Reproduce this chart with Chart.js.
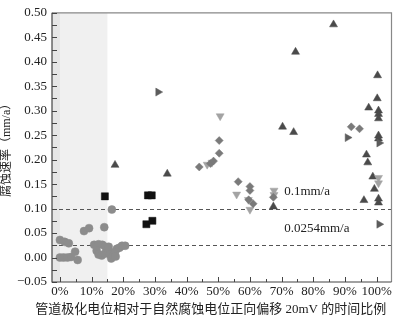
<!DOCTYPE html>
<html lang="zh">
<head>
  <meta charset="UTF-8" />
  <title>腐蚀速率与正向偏移时间比例</title>
  <script src="https://cdn.jsdelivr.net/npm/chart.js"></script>
  <style>
    html, body { margin: 0; padding: 0; background: #fff; }
    #wrap { width: 397px; height: 322px; }
  </style>
</head>
<body>
<div id="wrap"><canvas id="rateChart" width="397" height="322"></canvas></div>
<script>
  // x: time share (%) with polarized potential shifted +20mV, y: corrosion rate (mm/a)
  const circlePts = [
    [0, 0.036], [1.5, 0.032], [2.8, 0.029], [0, 0.0], [1.2, 0.0], [2.4, 0.0],
    [3.5, 0.001], [4.8, 0.012], [5.6, -0.005], [7.6, 0.054], [9.2, 0.06],
    [14, 0.062], [16.4, 0.098],
    [10.8, 0.026], [12.2, 0.027], [13.4, 0.026], [14.4, 0.022], [11.6, 0.014],
    [12.2, 0.006], [13.2, 0.004], [14.2, 0.008], [15.2, 0.014], [15.8, 0.006],
    [16.2, -0.002], [16.8, 0.004], [17.4, 0.012], [18, 0.018], [18.8, 0.02],
    [19.6, 0.024], [20.6, 0.024], [17.6, 0.002], [15.4, 0.022]
  ];
  const squarePts = [[14.2, 0.125], [27.8, 0.127], [29, 0.127], [27.3, 0.068], [29.2, 0.075]];
  const triUpPts = [
    [17.4, 0.189], [33.9, 0.171], [70.3, 0.267], [73.8, 0.256], [74.4, 0.42],
    [86.4, 0.476], [100.3, 0.372], [100.2, 0.325], [97.5, 0.306], [100.6, 0.30],
    [100.6, 0.293], [100.6, 0.284], [100.6, 0.249], [100.6, 0.243], [96.8, 0.21],
    [97.2, 0.194], [98.8, 0.165], [99.3, 0.14], [96, 0.117], [100.6, 0.12],
    [100.6, 0.112], [67.4, 0.104]
  ];
  const diamondPts = [
    [44, 0.185], [50.3, 0.239], [50.3, 0.213], [56.3, 0.155], [60, 0.145],
    [60, 0.137], [61, 0.11], [59.6, 0.118], [67.4, 0.123], [92, 0.267],
    [94.6, 0.263], [47.5, 0.192], [48.5, 0.197]
  ];
  const triDownPts = [
    [50.6, 0.289], [46.5, 0.19], [48, 0.194], [55.8, 0.129], [60, 0.098],
    [59.5, 0.118], [67.6, 0.137], [67.6, 0.128], [100.6, 0.163], [100.6, 0.152]
  ];
  const triRightPts = [[31, 0.338], [90.8, 0.245], [100.8, 0.234], [100.8, 0.068]];

  const xTickValues = [0, 10, 20, 30, 40, 50, 60, 70, 80, 90, 100];
  const refLines = [0.1, 0.0254];
  const refLabels = ['0.1mm/a', '0.0254mm/a'];
  const shadeTo = 15;

  const serif = '"Liberation Serif", "Noto Sans CJK SC", serif';
  const toXY = arr => arr.map(p => ({ x: p[0], y: p[1] }));

  function series(data, style, color, radius, rotation) {
    return {
      data: toXY(data),
      pointStyle: style,
      rotation: rotation || 0,
      pointRadius: radius,
      pointBackgroundColor: color,
      pointBorderColor: color,
      pointBorderWidth: 0.5,
      showLine: false
    };
  }

  const decor = {
    id: 'decor',
    beforeDraw(chart) {
      const { ctx, chartArea: a, scales: { x } } = chart;
      ctx.save();
      // shaded band for the first 15%
      ctx.fillStyle = '#f0f0f0';
      ctx.fillRect(a.left, a.top, x.getPixelForValue(shadeTo) - a.left, a.bottom - a.top);
      ctx.fillStyle = '#e6e6e6';
      ctx.fillRect(a.left, a.top, x.getPixelForValue(0) - a.left, a.bottom - a.top);
      ctx.restore();
    },
    beforeDatasetsDraw(chart) {
      const { ctx, chartArea: a, scales: { y } } = chart;
      ctx.save();
      ctx.strokeStyle = '#555';
      ctx.lineWidth = 1.2;
      ctx.setLineDash([4, 3]);
      refLines.forEach(v => {
        const py = Math.round(y.getPixelForValue(v)) + 0.5;
        ctx.beginPath();
        ctx.moveTo(a.left, py);
        ctx.lineTo(a.right, py);
        ctx.stroke();
      });
      ctx.restore();
    },
    afterDraw(chart) {
      const { ctx, chartArea: a, scales: { x, y } } = chart;
      ctx.save();
      // reference line labels on white boxes
      ctx.font = '13px ' + serif;
      ctx.textBaseline = 'middle';
      const lx = x.getPixelForValue(70.8);
      refLines.forEach((v, i) => {
        const py = y.getPixelForValue(v) - 17;
        const w = ctx.measureText(refLabels[i]).width;
        ctx.fillStyle = '#fff';
        ctx.fillRect(lx - 3, py - 8, w + 6, 16);
        ctx.fillStyle = '#222';
        ctx.fillText(refLabels[i], lx, py);
      });

      // frame
      ctx.lineWidth = 1.2;
      ctx.strokeStyle = '#888';
      ctx.beginPath();
      ctx.moveTo(a.left, a.top);
      ctx.lineTo(a.right, a.top);
      ctx.lineTo(a.right, a.bottom);
      ctx.stroke();
      ctx.strokeStyle = '#444';
      ctx.beginPath();
      ctx.moveTo(a.left, a.top);
      ctx.lineTo(a.left, a.bottom);
      ctx.lineTo(a.right, a.bottom);
      ctx.stroke();

      // inward ticks
      ctx.lineWidth = 1;
      for (let v = -0.05; v <= 0.5001; v += 0.025) {
        const py = Math.round(y.getPixelForValue(v)) + 0.5;
        ctx.beginPath();
        ctx.moveTo(a.left, py);
        ctx.lineTo(a.left + 5, py);
        ctx.stroke();
      }
      for (let v = 0; v <= 100; v += 5) {
        const px = Math.round(x.getPixelForValue(v)) + 0.5;
        ctx.beginPath();
        ctx.moveTo(px, a.bottom);
        ctx.lineTo(px, a.bottom - (v % 10 === 0 ? 5 : 3));
        ctx.stroke();
      }

      // x axis title
      ctx.font = '13px ' + serif;
      ctx.fillStyle = '#222';
      ctx.textAlign = 'center';
      ctx.textBaseline = 'middle';
      ctx.fillText('管道极化电位相对于自然腐蚀电位正向偏移 20mV 的时间比例',
        (a.left + a.right) / 2 - 11, a.bottom + 28);
      ctx.restore();
    }
  };

  new Chart(document.getElementById('rateChart'), {
    type: 'scatter',
    data: {
      datasets: [
        series(circlePts, 'circle', '#8c8c8c', 4),
        series(squarePts, 'rect', '#111111', 5),
        series(diamondPts, 'rectRot', '#7a7a7a', 4),
        series(triDownPts, 'triangle', '#a3a3a3', 4.6, 180),
        series(triRightPts, 'triangle', '#5c5c5c', 4.6, 90),
        series(triUpPts, 'triangle', '#4a4a4a', 4.6)
      ]
    },
    options: {
      responsive: false,
      animation: false,
      layout: { padding: { top: 6, right: 5, left: 0, bottom: 0 } },
      plugins: { legend: { display: false }, tooltip: { enabled: false } },
      scales: {
        x: {
          type: 'linear',
          min: -2.5,
          max: 104.7,
          grid: { display: false, drawTicks: false },
          border: { display: false },
          afterBuildTicks: s => { s.ticks = xTickValues.map(v => ({ value: v })); },
          afterFit: s => { s.height = 40; },
          ticks: {
            padding: 2,
            maxRotation: 0,
            autoSkip: false,
            color: '#222',
            font: { family: serif, size: 13 },
            callback: v => v + '%'
          }
        },
        y: {
          min: -0.05,
          max: 0.5,
          grid: { display: false, drawTicks: false },
          border: { display: false },
          afterFit: s => { s.width = 52; },
          ticks: {
            stepSize: 0.05,
            padding: 5,
            color: '#222',
            font: { family: serif, size: 13 },
            callback: v => v.toFixed(2).replace('-', '\u2212')
          },
          title: {
            display: true,
            text: '腐蚀速率（mm/a）',
            color: '#222',
            padding: 0,
            font: { family: serif, size: 12 }
          }
        }
      }
    },
    plugins: [decor]
  });
</script>
</body>
</html>
